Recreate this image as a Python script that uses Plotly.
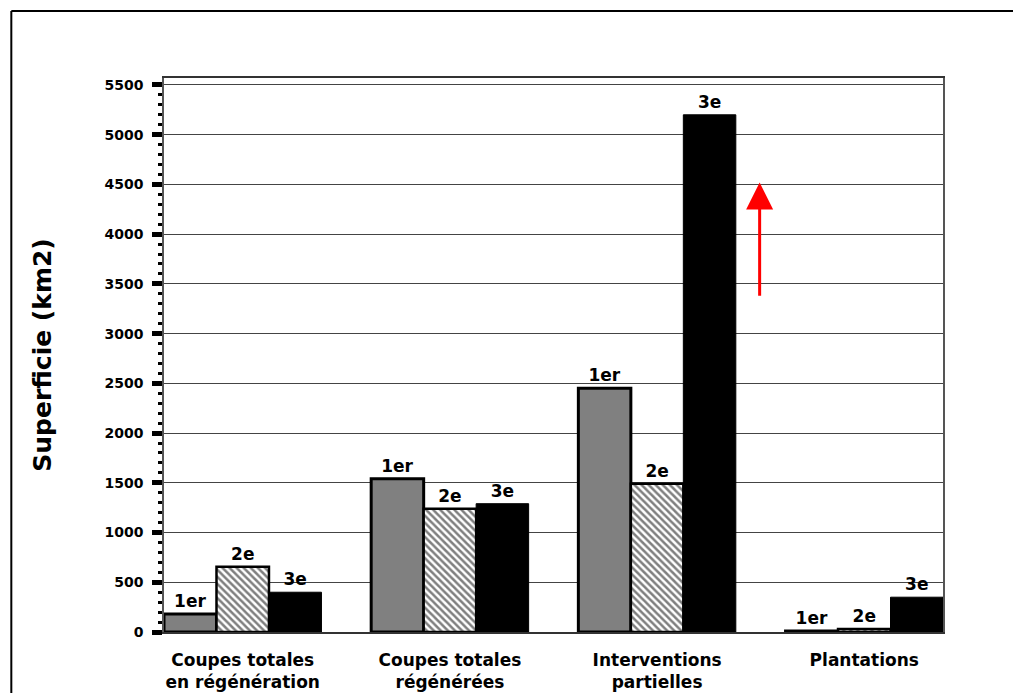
import plotly.graph_objects as go

categories = ["Coupes totales<br>en régénération", "Coupes totales<br>régénérées",
              "Interventions<br>partielles", "Plantations"]
series_names = ["1er", "2e", "3e"]
vals_1er = [180, 1540, 2450, 10]
vals_2e = [655, 1240, 1490, 30]
vals_3e = [400, 1290, 5200, 350]
y_ticks = [0, 500, 1000, 1500, 2000, 2500, 3000, 3500, 4000, 4500, 5000, 5500]
y_title = "Superficie (km2)"
arrow_from = 3365
arrow_to = 4520

FONT = "DejaVu Sans, Arial, sans-serif"
xpos = list(range(len(categories)))

fig = go.Figure()
styles = [
    dict(color="#808080", line=dict(color="black", width=3)),
    dict(color="white", line=dict(color="black", width=2.5),
         pattern=dict(shape="\\", fgcolor="black", bgcolor="white", size=5, solidity=0.5)),
    dict(color="black", line=dict(color="black", width=1)),
]
for name, vals, st in zip(series_names, [vals_1er, vals_2e, vals_3e], styles):
    fig.add_trace(go.Bar(
        x=xpos, y=vals, name=name, marker=st,
        text=["<b>%s</b>" % name] * len(vals), textposition="outside", cliponaxis=False,
        textfont=dict(family=FONT, size=17, color="black"),
    ))

fig.update_layout(
    width=1013, height=693,
    margin=dict(l=164, r=70, t=78, b=61),
    paper_bgcolor="white", plot_bgcolor="white",
    barmode="group", bargap=0.24, bargroupgap=0,
    showlegend=False,
    font=dict(family=FONT, color="black"),
    xaxis=dict(
        tickmode="array", tickvals=xpos, ticktext=["<b>%s</b>" % c for c in categories],
        range=[-0.38, 3.38], showgrid=False, zeroline=False, automargin=False,
        showline=True, linecolor="#333", linewidth=1.5, mirror=True,
        ticks="", tickfont=dict(family=FONT, size=17, color="black"),
        ticklabelstandoff=12,
    ),
    yaxis=dict(
        range=[0, 5570], tickmode="array", tickvals=y_ticks, automargin=False,
        ticktext=["<b>%d</b>" % t for t in y_ticks],
        tickfont=dict(family=FONT, size=14, color="black"),
        showgrid=True, gridcolor="#444", gridwidth=1.2, zeroline=False,
        showline=True, linecolor="#555", linewidth=1.5, mirror=True,
        ticks="outside", ticklen=10, tickwidth=5, tickcolor="black",
        ticklabelstandoff=6,
        minor=dict(dtick=100, ticks="outside", ticklen=4, tickwidth=2.5,
                   tickcolor="black", showgrid=False),
    ),
)

fig.add_annotation(
    text="<b>%s</b>" % y_title, xref="paper", yref="paper",
    x=-0.157, y=0.5, xanchor="center", yanchor="middle", textangle=-90,
    showarrow=False, font=dict(family=FONT, size=25, color="black"),
)

fig.add_annotation(
    x=2.495, y=arrow_to, ax=2.495, ay=arrow_from, xref="x", yref="y",
    axref="x", ayref="y", text="", showarrow=True, arrowhead=2,
    arrowsize=1.8, arrowwidth=3, arrowcolor="red",
)

# outer frame: top and left edges only
fig.add_shape(type="line", xref="paper", yref="paper",
              x0=-0.196, x1=1.2, y0=1.121, y1=1.121,
              line=dict(color="black", width=2))
fig.add_shape(type="line", xref="paper", yref="paper",
              x0=-0.196, x1=-0.196, y0=-0.2, y1=1.121,
              line=dict(color="black", width=2))

fig.write_html("out.html", config={"displayModeBar": False},
               post_script="document.body.style.margin='0';document.body.style.overflow='hidden';")
